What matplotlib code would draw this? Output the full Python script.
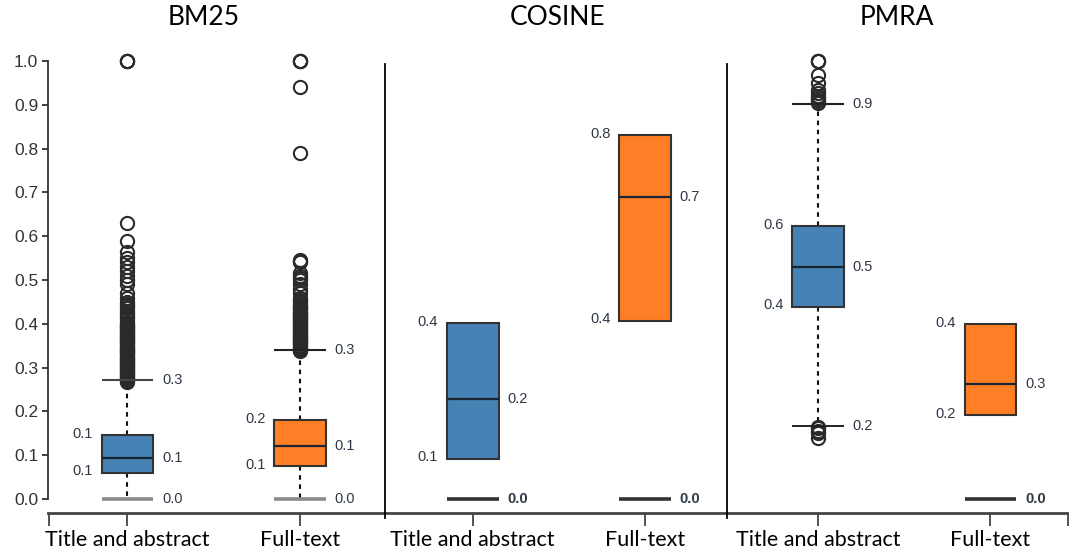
import matplotlib
matplotlib.use("Agg")
import matplotlib.pyplot as plt
import numpy as np

# ---------------- data ----------------
methods = ["BM25", "COSINE", "PMRA"]
categories = ["Title and abstract", "Full-text", "Title and abstract", "Full-text",
              "Title and abstract", "Full-text"]
box_colors = ["#4682B4", "#FF7F27", "#4682B4", "#FF7F27", "#4682B4", "#FF7F27"]

q1 = [0.060, 0.075, 0.092, 0.407, 0.439, 0.192]
med = [0.094, 0.122, 0.228, 0.690, 0.530, 0.262]
q3 = [0.145, 0.180, 0.401, 0.830, 0.623, 0.399]
cap_lo = [0.0, 0.0, 0.0, 0.0, 0.167, 0.0]
cap_hi = [0.272, 0.340, None, None, 0.901, None]
has_whisker = [True, True, False, False, True, False]

fliers_bm25_ta = [0.268, 0.270, 0.273, 0.275, 0.278, 0.280, 0.283, 0.285, 0.288, 0.290,
                  0.293, 0.295, 0.298, 0.300, 0.303, 0.305, 0.308, 0.310, 0.313, 0.315,
                  0.318, 0.320, 0.323, 0.325, 0.328, 0.330, 0.333, 0.335, 0.338, 0.340,
                  0.343, 0.345, 0.348, 0.350, 0.353, 0.355, 0.358, 0.360, 0.363, 0.365,
                  0.368, 0.370, 0.373, 0.375, 0.378, 0.380, 0.383, 0.385, 0.388, 0.390,
                  0.393, 0.395, 0.398, 0.400, 0.405, 0.410, 0.415, 0.420, 0.425, 0.430,
                  0.435, 0.440, 0.445, 0.450, 0.460, 0.470, 0.490, 0.500, 0.510, 0.520,
                  0.530, 0.540, 0.550, 0.565, 0.590, 0.630, 1.0, 1.0, 1.0]
fliers_bm25_ft = [0.338, 0.340, 0.343, 0.345, 0.348, 0.350, 0.353, 0.355, 0.358, 0.360,
                  0.363, 0.365, 0.368, 0.370, 0.373, 0.375, 0.378, 0.380, 0.383, 0.385,
                  0.388, 0.390, 0.393, 0.395, 0.398, 0.400, 0.403, 0.405, 0.408, 0.410,
                  0.413, 0.415, 0.418, 0.420, 0.423, 0.425, 0.428, 0.430, 0.433, 0.435,
                  0.438, 0.440, 0.445, 0.450, 0.455, 0.460, 0.470, 0.480, 0.490, 0.500,
                  0.505, 0.510, 0.515, 0.540, 0.543, 0.545, 0.790, 0.940, 1.0, 1.0, 1.0]
fliers_cos_ta = []
fliers_cos_ft = []
fliers_pmra_ta = [0.905, 0.909, 0.912, 0.916, 0.919, 0.926, 0.934, 0.949, 0.968,
                  1.0, 1.0, 1.0, 0.164, 0.161, 0.155, 0.150, 0.139]
fliers_pmra_ft = []
fliers = [fliers_bm25_ta, fliers_bm25_ft, fliers_cos_ta, fliers_cos_ft,
          fliers_pmra_ta, fliers_pmra_ft]

lab_q3 = ["0.1", "0.2", "0.4", "0.8", "0.6", "0.4"]
lab_q1 = ["0.1", "0.1", "0.1", "0.4", "0.4", "0.2"]
lab_med = ["0.1", "0.1", "0.2", "0.7", "0.5", "0.3"]
lab_hi = ["0.3", "0.3", "", "", "0.9", ""]
lab_lo = ["0.0", "0.0", "0.0", "0.0", "0.2", "0.0"]

yticks = [0.0, 0.1, 0.2, 0.3, 0.4, 0.5, 0.6, 0.7, 0.8, 0.9, 1.0]

# ---------------- styles ----------------
cap_lo_colors = ["#8a8a8a", "#8a8a8a", "#333333", "#333333", "#222222", "#333333"]
cap_lo_widths = [2.6, 2.6, 2.6, 2.6, 1.4, 2.6]
cap_hi_colors = ["#444444", "#222222", None, None, "#222222", None]
lab_color = "#2f3845"

W, H = 1069, 555
fig = plt.figure(figsize=(W / 100, H / 100), dpi=100)
y0, y1 = -0.032, 1.06
ax = fig.add_axes([48 / W, (H - 513) / H, (W - 48) / W, (513 - 34.7) / H])

positions = np.arange(len(categories))
bw = 0.30

stats = []
for i in range(len(categories)):
    stats.append(dict(
        med=med[i], q1=q1[i], q3=q3[i],
        whislo=cap_lo[i] if has_whisker[i] else q1[i],
        whishi=(cap_hi[i] if cap_hi[i] is not None else q3[i]) if has_whisker[i] else q3[i],
        fliers=fliers[i], label=categories[i]))

bp = ax.bxp(stats, positions=positions, widths=bw, patch_artist=True,
            showcaps=False, showfliers=True,
            boxprops=dict(edgecolor="#333333", linewidth=1.5),
            medianprops=dict(color="#1a2533", linewidth=1.6),
            whiskerprops=dict(color="#111111", linewidth=1.5, linestyle=(0, (2.2, 2.2))),
            flierprops=dict(marker="o", markersize=9.5, markerfacecolor="none",
                            markeredgecolor="#2a2a2a", markeredgewidth=1.5))
for patch, c in zip(bp["boxes"], box_colors):
    patch.set_facecolor(c)
for w in bp["whiskers"]:
    w.set_zorder(1)

# caps
for i, p in enumerate(positions):
    ax.hlines(cap_lo[i], p - bw / 2, p + bw / 2, color=cap_lo_colors[i],
              linewidth=cap_lo_widths[i], zorder=3)
    if cap_hi[i] is not None:
        ax.hlines(cap_hi[i], p - bw / 2, p + bw / 2, color=cap_hi_colors[i],
                  linewidth=1.5, zorder=3)

# value labels
lfs = 10.5
for i, p in enumerate(positions):
    left = p - bw / 2 - 0.05
    right = p + bw / 2 + 0.05
    ax.text(left, q3[i] + 0.003, lab_q3[i], ha="right", va="center", fontsize=lfs,
            color=lab_color, family="Liberation Sans")
    ax.text(left, q1[i] + 0.003, lab_q1[i], ha="right", va="center", fontsize=lfs,
            color=lab_color, family="Liberation Sans")
    ax.text(right, med[i], lab_med[i], ha="left", va="center", fontsize=lfs,
            color=lab_color, family="Liberation Sans")
    if cap_hi[i] is not None:
        ax.text(right, cap_hi[i], lab_hi[i], ha="left", va="center", fontsize=lfs,
                color=lab_color, family="Liberation Sans")
    bold = (cap_lo_widths[i] > 2 and i >= 2)
    ax.text(right, cap_lo[i], lab_lo[i], ha="left", va="center", fontsize=lfs,
            color=lab_color, family="Liberation Sans",
            fontweight="bold" if bold else "normal")

# separators
for xs in [1.49, 3.475]:
    ax.axvline(xs, ymin=(0.993 - y0) / (y1 - y0), ymax=(-0.0445 - y0) / (y1 - y0),
               color="black", linewidth=1.3, clip_on=False, zorder=4)

# method titles
for xt, m in zip([0.44, 2.49, 4.46], methods):
    ax.text(xt, (499 - 18) / 438, m, ha="center", va="center",
            fontsize=19, family="Lato", color="black", clip_on=False)

ax.set_xlim(-0.46, 5.455)
ax.set_ylim(y0, y1)

ax.spines["top"].set_visible(False)
ax.spines["right"].set_visible(False)
ax.spines["left"].set_bounds(0, 1)
ax.spines["left"].set_color("#333333")
ax.spines["left"].set_linewidth(1.3)
ax.spines["bottom"].set_color("#444444")
ax.spines["bottom"].set_linewidth(2.0)

ax.set_yticks(yticks)
ax.set_yticklabels([f"{v:.1f}" for v in yticks], fontsize=12.5,
                   family="Liberation Sans", color="#333333")
ax.tick_params(axis="y", length=4, width=1.3, color="#333333", pad=3)

ax.set_xticks(positions)
ax.set_xticklabels(categories, fontsize=15.5, family="Lato", color="black")
ax.set_xticks([-0.455, 5.45], minor=True)
ax.tick_params(axis="x", which="both", length=9, width=1.3, color="#444444", pad=3)

fig.savefig("out.png", dpi=100)
